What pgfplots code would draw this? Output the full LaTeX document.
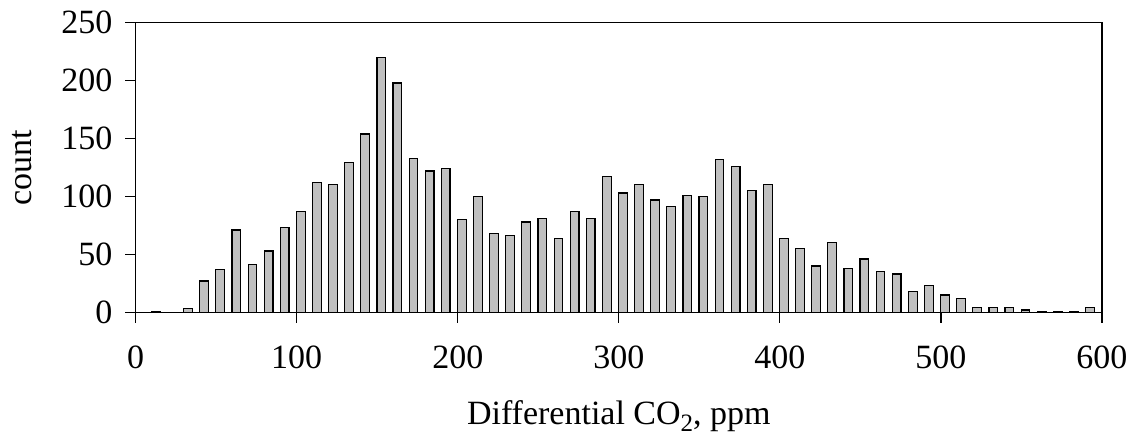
\documentclass[border=0pt]{standalone}
\usepackage{fontspec}
\setmainfont{Liberation Serif}
\usepackage{pgfplots}
\usepackage{pgfplotstable}
\pgfplotsset{compat=1.18}
\definecolor{barfill}{RGB}{192,192,192}

% histogram of differential CO2 (bin centre, count)
\pgfplotstableread{
x y
12.5 1
32.5 3
42.5 27
52.5 37
62.5 71
72.5 41
82.5 53
92.5 73
102.5 87
112.5 112
122.5 110
132.5 129
142.5 154
152.5 220
162.5 198
172.5 133
182.5 122
192.5 124
202.5 80
212.5 100
222.5 68
232.5 66
242.5 78
252.5 81
262.5 64
272.5 87
282.5 81
292.5 117
302.5 103
312.5 110
322.5 97
332.5 91
342.5 101
352.5 100
362.5 132
372.5 126
382.5 105
392.5 110
402.5 64
412.5 55
422.5 40
432.5 60
442.5 38
452.5 46
462.5 35
472.5 33
482.5 18
492.5 23
502.5 15
512.5 12
522.5 4
532.5 4
542.5 4
552.5 2
562.5 1
572.5 1
582.5 1
592.5 4
}\histdata

\begin{document}
\begin{tikzpicture}
\begin{axis}[
  scale only axis,
  width=483.15pt, height=144.8pt,
  xmin=0, xmax=600, ymin=0, ymax=250,
  xtick={0,100,...,600}, ytick={0,50,...,250},
  xtick pos=bottom, ytick pos=left,
  tick align=outside, major tick length=5.3pt,
  axis line style={line width=0.6pt},
  every tick/.style={black, line width=0.6pt},
  /pgf/number format/assume math mode=true,
  tick label style={font=\fontsize{17}{20}\selectfont},
  label style={font=\fontsize{17}{20}\selectfont},
  xticklabel style={anchor=base, yshift=-22.7pt},
  yticklabel style={anchor=east, xshift=-2.8pt},
  xlabel={Differential CO\raisebox{-3.6pt}{\fontsize{12.5}{14}\selectfont 2}, ppm},
  ylabel={count},
  xlabel style={at={(axis description cs:0.5,-0.388)}, anchor=base},
  ylabel style={at={(axis description cs:-0.1177,0.5)}, rotate=0, anchor=center},
]
\addplot[ybar, bar width=5.4, fill=barfill, draw=black, line width=0.6pt] table {\histdata};
\end{axis}
\pgfresetboundingbox
\path (current axis.south west) ++(-67.85pt,-62.85pt) rectangle ++(566pt,219pt);
\end{tikzpicture}
\end{document}
